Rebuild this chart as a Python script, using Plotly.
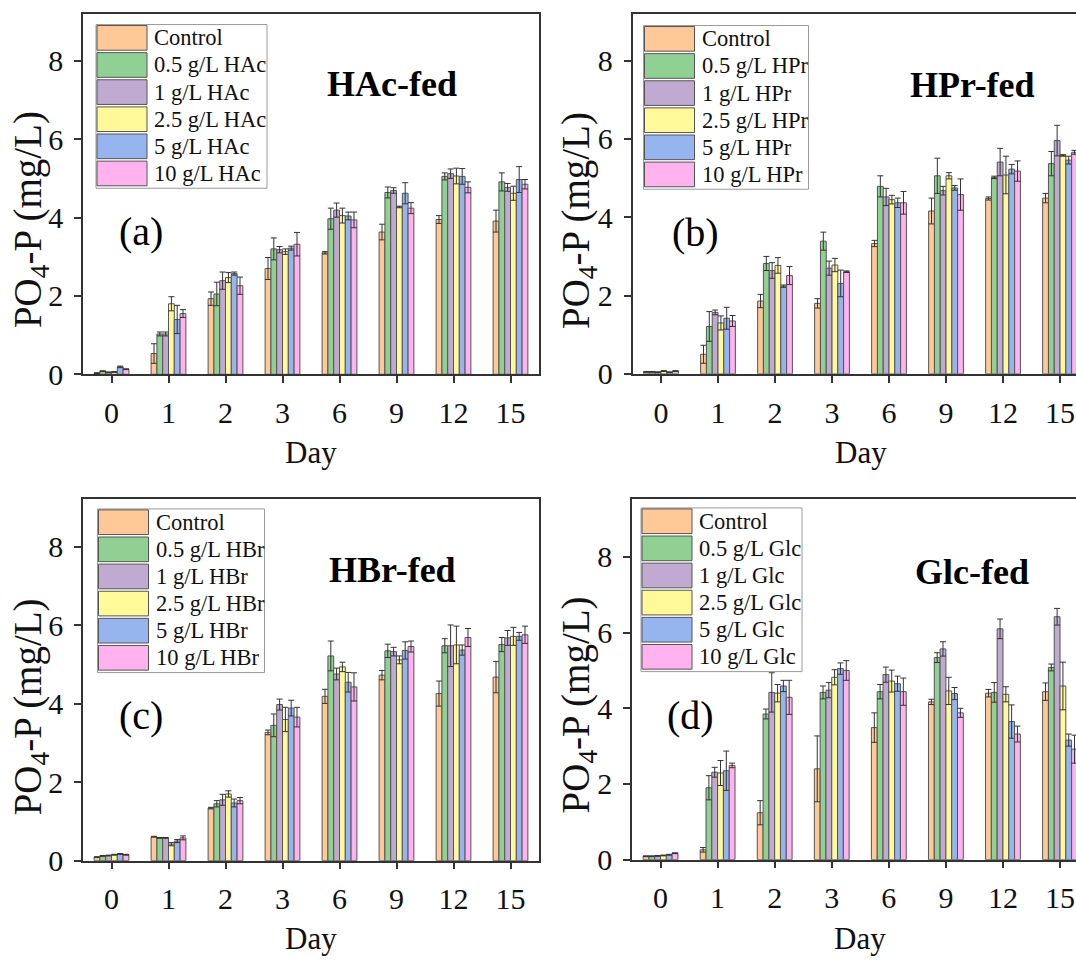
import plotly.graph_objects as go

W, H = 1076, 969
FONT = "Times New Roman, Liberation Serif, serif"

days = ['0', '1', '2', '3', '6', '9', '12', '15']
series_colors = ['#FFC896', '#90D092', '#C0AAD2', '#FFF99A', '#96B4EE', '#FFB2EE']
conc_labels = ['Control', '0.5 g/L', '1 g/L', '2.5 g/L', '5 g/L', '10 g/L']
substrates = ['HAc', 'HPr', 'HBr', 'Glc']
panel_letters = ['(a)', '(b)', '(c)', '(d)']

# ---- (a) HAc-fed (rows: Control, 0.5, 1, 2.5, 5, 10 g/L)
hac_means = [
    [0.03, 0.53, 1.93, 2.70, 3.10, 3.63, 3.95, 3.91],
    [0.08, 1.03, 2.05, 3.20, 3.97, 4.64, 5.05, 4.91],
    [0.05, 1.03, 2.39, 3.18, 4.19, 4.69, 5.12, 4.77],
    [0.06, 1.80, 2.47, 3.13, 4.05, 4.27, 5.06, 4.62],
    [0.19, 1.40, 2.57, 3.22, 4.04, 4.62, 5.05, 4.97],
    [0.13, 1.55, 2.26, 3.32, 3.94, 4.24, 4.77, 4.85],
]
hac_errs = [
    [0.01, 0.25, 0.17, 0.28, 0.03, 0.20, 0.10, 0.28],
    [0.01, 0.05, 0.30, 0.28, 0.27, 0.14, 0.09, 0.23],
    [0.01, 0.05, 0.22, 0.08, 0.18, 0.07, 0.12, 0.10],
    [0.01, 0.18, 0.13, 0.07, 0.19, 0.02, 0.20, 0.18],
    [0.02, 0.36, 0.04, 0.05, 0.10, 0.27, 0.20, 0.33],
    [0.01, 0.10, 0.22, 0.30, 0.20, 0.14, 0.14, 0.12],
]
# ---- (b) HPr-fed
hpr_means = [
    [0.05, 0.50, 1.86, 1.80, 3.33, 4.16, 4.48, 4.49],
    [0.05, 1.21, 2.82, 3.39, 4.79, 5.06, 5.02, 5.37],
    [0.04, 1.57, 2.64, 2.70, 4.52, 4.68, 5.41, 5.96],
    [0.07, 1.30, 2.77, 2.78, 4.45, 5.06, 5.08, 5.58],
    [0.04, 1.42, 2.24, 2.31, 4.37, 4.75, 5.23, 5.46],
    [0.07, 1.35, 2.51, 2.61, 4.37, 4.58, 5.18, 5.66],
]
hpr_errs = [
    [0.01, 0.23, 0.17, 0.12, 0.08, 0.33, 0.04, 0.12],
    [0.01, 0.38, 0.18, 0.23, 0.27, 0.45, 0.03, 0.31],
    [0.01, 0.06, 0.20, 0.18, 0.22, 0.11, 0.35, 0.39],
    [0.01, 0.18, 0.20, 0.17, 0.11, 0.08, 0.48, 0.02],
    [0.01, 0.28, 0.03, 0.34, 0.12, 0.06, 0.12, 0.10],
    [0.01, 0.14, 0.23, 0.02, 0.29, 0.40, 0.26, 0.05],
]
# ---- (c) HBr-fed
hbr_means = [
    [0.09, 0.61, 1.34, 3.27, 4.19, 4.73, 4.26, 4.68],
    [0.12, 0.58, 1.45, 3.45, 5.22, 5.35, 5.48, 5.51],
    [0.13, 0.58, 1.55, 3.98, 4.76, 5.33, 5.48, 5.68],
    [0.15, 0.42, 1.70, 3.60, 4.94, 5.12, 5.50, 5.72],
    [0.17, 0.50, 1.47, 3.89, 4.55, 5.36, 5.37, 5.72],
    [0.15, 0.58, 1.53, 3.66, 4.43, 5.46, 5.69, 5.76],
]
hbr_errs = [
    [0.01, 0.01, 0.02, 0.06, 0.18, 0.12, 0.32, 0.40],
    [0.01, 0.01, 0.08, 0.29, 0.38, 0.17, 0.18, 0.18],
    [0.01, 0.01, 0.14, 0.14, 0.15, 0.11, 0.53, 0.19],
    [0.01, 0.04, 0.08, 0.31, 0.12, 0.10, 0.48, 0.23],
    [0.01, 0.04, 0.10, 0.20, 0.25, 0.22, 0.13, 0.10],
    [0.01, 0.05, 0.08, 0.25, 0.36, 0.14, 0.23, 0.22],
]
# ---- (d) Glc-fed
glc_means = [
    [0.09, 0.26, 1.24, 2.40, 3.49, 4.17, 4.40, 4.44],
    [0.09, 1.90, 3.85, 4.42, 4.44, 5.34, 4.42, 5.08],
    [0.10, 2.31, 4.42, 4.48, 4.89, 5.57, 6.10, 6.42],
    [0.11, 2.29, 4.40, 4.82, 4.72, 4.46, 4.37, 4.59],
    [0.13, 2.35, 4.59, 5.05, 4.65, 4.39, 3.65, 3.16],
    [0.17, 2.49, 4.29, 5.00, 4.44, 3.88, 3.32, 2.92],
]
glc_errs = [
    [0.01, 0.06, 0.32, 0.87, 0.39, 0.07, 0.10, 0.23],
    [0.01, 0.32, 0.13, 0.17, 0.19, 0.13, 0.26, 0.09],
    [0.01, 0.13, 0.52, 0.20, 0.20, 0.19, 0.26, 0.22],
    [0.01, 0.33, 0.23, 0.20, 0.29, 0.36, 0.20, 0.63],
    [0.01, 0.52, 0.15, 0.15, 0.20, 0.16, 0.44, 0.16],
    [0.01, 0.06, 0.45, 0.26, 0.36, 0.12, 0.21, 0.37],
]

all_means = [hac_means, hpr_means, hbr_means, glc_means]
all_errs = [hac_errs, hpr_errs, hbr_errs, glc_errs]
y_max = [9.2, 9.2, 9.22, 9.53]

# geometry in pixels: (left, right, top, bottom, x-range end)
geom = [
    (83, 539, 14, 381, 7.5),
    (632.5, 1076, 14, 380.5, 7.28),
    (83, 539, 508, 876, 7.5),
    (632, 1076, 508, 875, 7.28),
]
title_pos = [(392, 85), (972, 87), (392, 580), (972, 582)]
letter_pos = [(141, 236), (695, 237), (141, 728), (690, 728)]
ytitle_pos = [(30, 224), (578, 225), (30, 720), (578, 718)]
xtitle_pos = [(311, 461), (861, 461), (311, 955), (860, 955)]
legend_pos = [(96, 25, 171), (643.5, 26, 165), (97.5, 518, 167), (641, 517, 161)]


def fx(x):
    return x / W


def fy(y):
    return 1 - y / H


fig = go.Figure()
shapes = []
annotations = []

for p in range(4):
    ax = '' if p == 0 else str(p + 1)
    L, R, T, B, xend = geom[p]
    for s in range(6):
        fig.add_trace(go.Bar(
            x=days, y=all_means[p][s],
            xaxis='x' + ax, yaxis='y' + ax,
            marker=dict(color=series_colors[s], line=dict(color='#555555', width=1)),
            error_y=dict(type='data', array=all_errs[p][s], visible=True,
                         color='#333333', thickness=1, width=3),
            showlegend=False,
            name=conc_labels[s] if s == 0 else conc_labels[s] + ' ' + substrates[p],
        ))
    fig.layout['xaxis' + ax] = dict(
        domain=[fx(L), fx(R)], anchor='y' + ax, type='category',
        categoryorder='array', categoryarray=days, range=[-0.5, xend],
        showline=True, linecolor='#333333', linewidth=1.5, mirror=True,
        ticks='outside', ticklen=7, tickwidth=1.5, tickcolor='#333333',
        tickfont=dict(family=FONT, size=30, color='#111111'),
        ticklabelstandoff=4,
        showgrid=False, zeroline=False,
    )
    fig.layout['yaxis' + ax] = dict(
        domain=[fy(B), fy(T)], anchor='x' + ax, range=[0, y_max[p]],
        tickmode='array', tickvals=[0, 2, 4, 6, 8],
        showline=True, linecolor='#333333', linewidth=1.5,
        mirror=(p in (0, 2)),
        ticks='outside', ticklen=7, tickwidth=1.5, tickcolor='#333333',
        tickfont=dict(family=FONT, size=30, color='#111111'),
        ticklabelstandoff=5,
        showgrid=False, zeroline=False,
    )

    tx, ty = title_pos[p]
    annotations.append(dict(x=fx(tx), y=fy(ty), xref='paper', yref='paper',
                            text='<b>%s-fed</b>' % substrates[p], showarrow=False,
                            xanchor='center', yanchor='middle',
                            font=dict(family=FONT, size=36, color='#000000')))
    lx, ly = letter_pos[p]
    annotations.append(dict(x=fx(lx), y=fy(ly), xref='paper', yref='paper',
                            text=panel_letters[p], showarrow=False,
                            xanchor='center', yanchor='middle',
                            font=dict(family=FONT, size=40, color='#000000')))
    yx, yy = ytitle_pos[p]
    annotations.append(dict(x=fx(yx), y=fy(yy), xref='paper', yref='paper',
                            text='PO<sub>4</sub>-P (mg/L)', showarrow=False,
                            textangle=-90, xanchor='center', yanchor='middle',
                            font=dict(family=FONT, size=39, color='#111111')))
    dx, dy = xtitle_pos[p]
    annotations.append(dict(x=fx(dx), y=fy(dy), xref='paper', yref='paper',
                            text='Day', showarrow=False,
                            xanchor='center', yanchor='middle',
                            font=dict(family=FONT, size=31, color='#111111')))

    gl, gt, gw = legend_pos[p]
    pitch = 27.6
    gh = 6 * pitch + 1
    shapes.append(dict(type='rect', xref='paper', yref='paper',
                       x0=fx(gl), x1=fx(gl + gw), y0=fy(gt + gh), y1=fy(gt),
                       line=dict(color='#9a9a9a', width=1), fillcolor='white',
                       layer='above'))
    for s in range(6):
        r0 = gt + 1 + s * pitch
        shapes.append(dict(type='rect', xref='paper', yref='paper',
                           x0=fx(gl + 1), x1=fx(gl + 51), y0=fy(r0 + pitch - 2.5), y1=fy(r0),
                           line=dict(color='#555555', width=1),
                           fillcolor=series_colors[s], layer='above'))
        label = conc_labels[s] if s == 0 else conc_labels[s] + ' ' + substrates[p]
        annotations.append(dict(x=fx(gl + 56), y=fy(r0 + (pitch - 2.5) / 2), xref='paper', yref='paper',
                                text=label, showarrow=False,
                                xanchor='left', yanchor='middle',
                                font=dict(family=FONT, size=22.5, color='#111111')))

fig.update_layout(
    width=W, height=H, autosize=False,
    margin=dict(l=0, r=0, t=0, b=0),
    paper_bgcolor='white', plot_bgcolor='white',
    barmode='group', bargap=0.39, bargroupgap=0,
    shapes=shapes, annotations=annotations,
    showlegend=False,
)

fig.write_html("out.html")
